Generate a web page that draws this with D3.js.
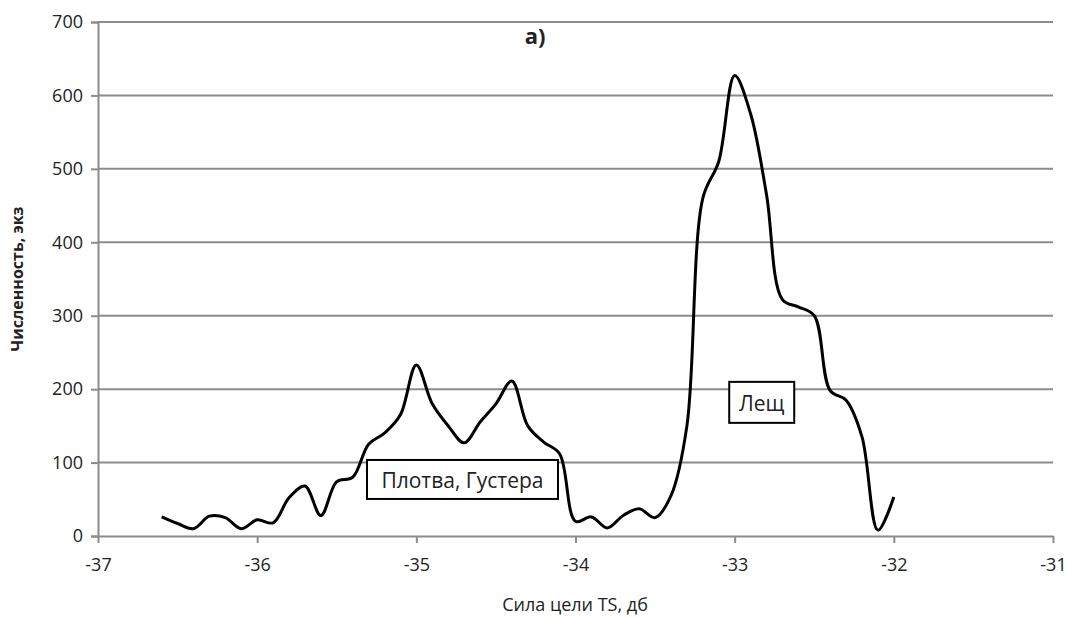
<!DOCTYPE html>
<html>
<head>
<meta charset="utf-8">
<script src="https://cdn.jsdelivr.net/npm/d3@7"></script>
<style>
  body { margin: 0; background: #fff; }
  text { font-family: "Open Sans", "Noto Sans", sans-serif; fill: #222; }
</style>
</head>
<body>
<div id="chart-area"></div>
<script>
// TS values, dB (0.1 step)
let tsValues = [-36.6, -36.5, -36.4, -36.3, -36.2, -36.1, -36.0, -35.9, -35.8, -35.7,
    -35.6, -35.5, -35.4, -35.3, -35.2, -35.1, -35.0, -34.9, -34.8, -34.7,
    -34.6, -34.5, -34.4, -34.3, -34.2, -34.1, -34.0, -33.9, -33.8, -33.7,
    -33.6, -33.5, -33.4, -33.3, -33.2, -33.1, -33.0, -32.9, -32.8, -32.7,
    -32.6, -32.5, -32.4, -32.3, -32.2, -32.1, -32.0];
// fish count
let counts = [26, 17, 10, 27, 25, 10, 22, 18, 52, 68,
    28, 74, 80, 125, 140, 165, 233, 180, 150, 127,
    155, 180, 211, 150, 128, 112, 20, 26, 11, 28,
    37, 25, 55, 150, 460, 510, 627, 575, 465, 322,
    312, 300, 198, 185, 135, 8, 53];
let xTicks = [-37, -36, -35, -34, -33, -32, -31];
let yTicks = [0, 100, 200, 300, 400, 500, 600, 700];
let notes = [
    {text: "Плотва, Густера", ts: -34.71, n: 77, w: 191, h: 39},
    {text: "Лещ", ts: -32.83, n: 182, w: 65, h: 41}
];

let margin = {left: 98, top: 22, right: 21, bottom: 81};
let width = 1074 - margin.left - margin.right;
let height = 617 - margin.top - margin.bottom;

let svg = d3.select('#chart-area')
    .append('svg')
    .attr('width', 1074)
    .attr('height', 617);
let g = svg.append('g')
    .attr('transform', 'translate(' + margin.left + ',' + margin.top + ')');

let x = d3.scaleLinear().domain([-37, -31]).range([0, width]);
let y = d3.scaleLinear().domain([0, 700]).range([height, 0]);

// gridlines
g.selectAll('.grid')
    .data(yTicks.slice(1))
    .enter().append('line')
    .attr('x1', 0).attr('x2', width)
    .attr('y1', d => y(d)).attr('y2', d => y(d))
    .attr('stroke', '#8c8c8c')
    .attr('stroke-width', 2);

let yAxis = g.append('g')
    .call(d3.axisLeft(y).tickValues(yTicks).tickSize(7).tickPadding(8));
yAxis.select('.domain').attr('stroke', '#8c8c8c').attr('stroke-width', 2);
yAxis.selectAll('.tick line').attr('stroke', '#8c8c8c').attr('stroke-width', 2);
yAxis.selectAll('text').attr('font-size', '18px').attr('fill', '#222');

let xAxis = g.append('g')
    .attr('transform', 'translate(0,' + height + ')')
    .call(d3.axisBottom(x).tickValues(xTicks).tickSize(7).tickPadding(15).tickSizeOuter(0)
        .tickFormat(d => String(d)));
xAxis.select('.domain').attr('stroke', '#8c8c8c').attr('stroke-width', 2);
xAxis.selectAll('.tick line').attr('stroke', '#8c8c8c').attr('stroke-width', 2);
xAxis.selectAll('text').attr('font-size', '18px').attr('fill', '#222');

// curve
let data = tsValues.map((t, i) => ({ts: t, n: counts[i]}));
let line = d3.line()
    .x(d => x(d.ts))
    .y(d => y(d.n))
    .curve(d3.curveCatmullRom.alpha(0.5));
g.append('path')
    .datum(data)
    .attr('d', line)
    .attr('fill', 'none')
    .attr('stroke', '#000')
    .attr('stroke-width', 3);

// annotation boxes
notes.forEach(function(d) {
    g.append('rect')
        .attr('x', x(d.ts) - d.w / 2)
        .attr('y', y(d.n) - d.h / 2)
        .attr('width', d.w)
        .attr('height', d.h)
        .attr('fill', '#fff')
        .attr('stroke', '#000')
        .attr('stroke-width', 2);
    g.append('text')
        .attr('x', x(d.ts))
        .attr('y', y(d.n) + 1)
        .attr('text-anchor', 'middle')
        .attr('dominant-baseline', 'central')
        .attr('font-size', '21px')
        .text(d.text);
});

// title
svg.append('text')
    .attr('x', 535)
    .attr('y', 44)
    .attr('text-anchor', 'middle')
    .attr('font-size', '22px')
    .attr('font-weight', 'bold')
    .text('а)');

// y label
svg.append('text')
    .attr('transform', 'translate(23,' + (margin.top + height / 2) + ') rotate(-90)')
    .attr('text-anchor', 'middle')
    .attr('font-size', '16px')
    .attr('font-weight', 'bold')
    .text('Численность, экз');

// x label
svg.append('text')
    .attr('x', 575)
    .attr('y', 611)
    .attr('text-anchor', 'middle')
    .attr('font-size', '18px')
    .text('Сила цели TS, дб');
</script>
</body>
</html>
